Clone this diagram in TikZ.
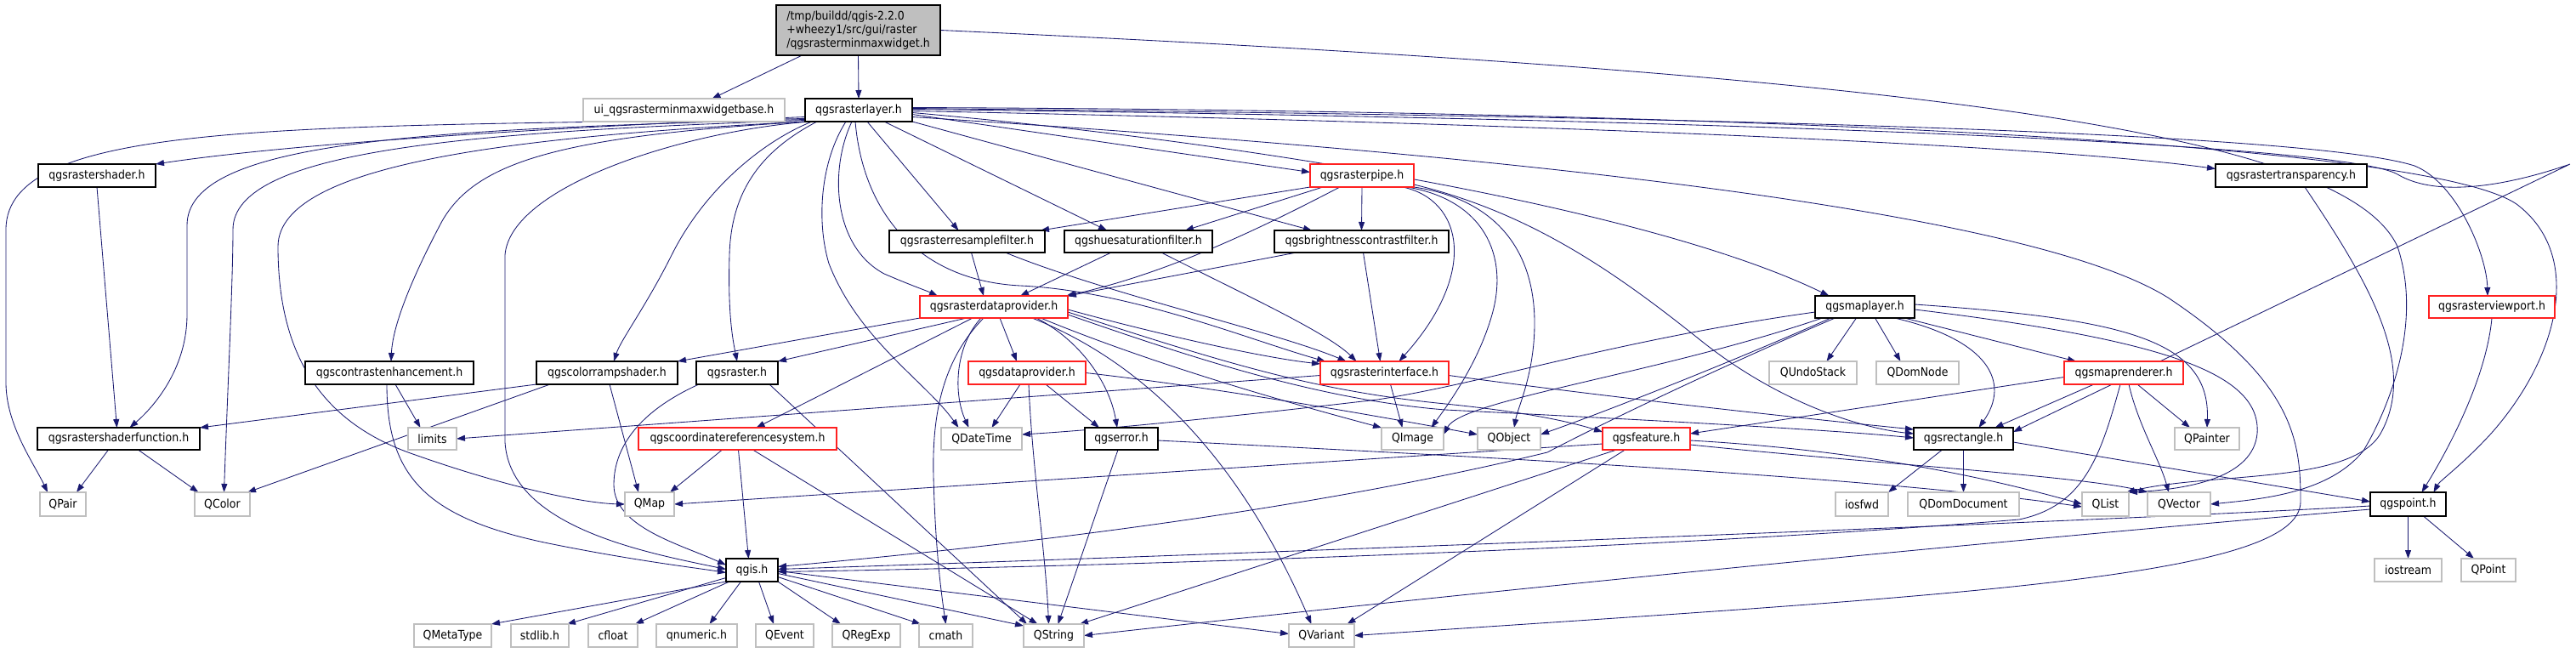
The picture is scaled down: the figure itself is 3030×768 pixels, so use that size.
\documentclass[tikz,border=0pt]{standalone}
\usepackage{fontspec}
\setmainfont{DejaVu Sans}[FakeStretch=0.9]
\usetikzlibrary{arrows.meta}
\definecolor{eblue}{HTML}{191970}
\definecolor{redb}{HTML}{FF2020}
\definecolor{grayb}{HTML}{BFBFBF}
\pgfdeclarelayer{back}
\pgfdeclarelayer{bg}
\pgfsetlayers{back,bg,main}
\newcommand\gnode[7]{\node[#6, minimum width={#4pt-#2pt}, minimum height={#5pt-#3pt}] (#1) at ({(#2+#4)/2},{(#3+#5)/2}) {#7};}
\tikzset{
 nb/.style={rectangle, inner sep=0pt, outer sep=0pt, fill=white, font=\fontsize{13.9}{15.7}\selectfont},
 blk/.style={nb, draw=black, line width=1.3pt},
 rdb/.style={nb, draw=redb, line width=1.2pt},
 gyb/.style={nb, draw=grayb, line width=1.2pt},
 topn/.style={nb, draw=black, line width=1.3pt, fill=grayb, align=left},
 ed/.style={draw=eblue, line width=0.85pt, -{Triangle[length=10pt,width=7pt]}},
}
\begin{document}
\begin{tikzpicture}[x=1pt,y=-1pt]
\useasboundingbox (0,0) rectangle (3030,768);
\begin{pgfonlayer}{back}
\fill[white] (0,0) rectangle (3030,768);
\end{pgfonlayer}
% nodes
\gnode{main}{913}{6}{1106}{65}{topn}{/tmp/buildd/qgis-2.2.0\\+wheezy1/src/gui/raster\\/qgsrasterminmaxwidget.h}
\gnode{ui}{686}{116}{923}{143}{gyb}{ui\_qgsrasterminmaxwidgetbase.h}
\gnode{L}{947}{116}{1073}{143}{blk}{qgsrasterlayer.h}
\gnode{RS}{45}{193}{183}{220}{blk}{qgsrastershader.h}
\gnode{P}{1541}{193}{1663}{220}{rdb}{qgsrasterpipe.h}
\gnode{TR}{2606}{193}{2784}{220}{blk}{qgsrastertransparency.h}
\gnode{RF}{1046}{271}{1229}{297}{blk}{qgsrasterresamplefilter.h}
\gnode{HS}{1252}{271}{1426}{297}{blk}{qgshuesaturationfilter.h}
\gnode{BC}{1499}{271}{1704}{297}{blk}{qgsbrightnesscontrastfilter.h}
\gnode{DP}{1082}{348}{1256}{374}{rdb}{qgsrasterdataprovider.h}
\gnode{ML}{2135}{348}{2252}{374}{blk}{qgsmaplayer.h}
\gnode{VP}{2857}{348}{3005}{374}{rdb}{qgsrasterviewport.h}
\gnode{CE}{359}{425}{557}{452}{blk}{qgscontrastenhancement.h}
\gnode{CR}{631}{425}{797}{452}{blk}{qgscolorrampshader.h}
\gnode{RA}{819}{425}{915}{452}{blk}{qgsraster.h}
\gnode{DPr}{1139}{425}{1277}{452}{rdb}{qgsdataprovider.h}
\gnode{RI}{1553}{425}{1704}{452}{rdb}{qgsrasterinterface.h}
\gnode{QU}{2081}{425}{2184}{452}{gyb}{QUndoStack}
\gnode{QDN}{2207}{425}{2304}{452}{gyb}{QDomNode}
\gnode{MR}{2428}{425}{2568}{452}{rdb}{qgsmaprenderer.h}
\gnode{RSF}{44}{503}{235}{529}{blk}{qgsrastershaderfunction.h}
\gnode{LIM}{480}{503}{537}{529}{gyb}{limits}
\gnode{CRS}{751}{503}{984}{529}{rdb}{qgscoordinatereferencesystem.h}
\gnode{QDT}{1107}{503}{1202}{529}{gyb}{QDateTime}
\gnode{ER}{1276}{503}{1362}{529}{blk}{qgserror.h}
\gnode{QI}{1625}{503}{1698}{529}{gyb}{QImage}
\gnode{QO}{1738}{503}{1812}{529}{gyb}{QObject}
\gnode{FE}{1885}{503}{1988}{529}{rdb}{qgsfeature.h}
\gnode{RE}{2251}{503}{2368}{529}{blk}{qgsrectangle.h}
\gnode{QPa}{2558}{503}{2634}{529}{gyb}{QPainter}
\gnode{QPair}{47}{579}{101}{607}{gyb}{QPair}
\gnode{QColor}{229}{579}{294}{607}{gyb}{QColor}
\gnode{QMap}{735}{579}{793}{607}{gyb}{QMap}
\gnode{IOF}{2159}{579}{2221}{607}{gyb}{iosfwd}
\gnode{QDD}{2244}{579}{2375}{607}{gyb}{QDomDocument}
\gnode{QList}{2449}{579}{2504}{607}{gyb}{QList}
\gnode{QVec}{2526}{579}{2600}{607}{gyb}{QVector}
\gnode{PT}{2788}{579}{2877}{607}{blk}{qgspoint.h}
\gnode{QGIS}{854}{657}{915}{684}{blk}{qgis.h}
\gnode{IOS}{2793}{657}{2872}{684}{gyb}{iostream}
\gnode{QPoint}{2895}{657}{2959}{684}{gyb}{QPoint}
\gnode{QMeta}{487}{734}{578}{761}{gyb}{QMetaType}
\gnode{STD}{601}{734}{669}{761}{gyb}{stdlib.h}
\gnode{CFL}{692}{734}{750}{761}{gyb}{cfloat}
\gnode{QNUM}{772}{734}{867}{761}{gyb}{qnumeric.h}
\gnode{QEV}{889}{734}{957}{761}{gyb}{QEvent}
\gnode{QRE}{979}{734}{1059}{761}{gyb}{QRegExp}
\gnode{CMA}{1081}{734}{1144}{761}{gyb}{cmath}
\gnode{QS}{1204}{734}{1275}{761}{gyb}{QString}
\gnode{QVar}{1516}{734}{1593}{761}{gyb}{QVariant}
% edges
\begin{pgfonlayer}{bg}
% main
\draw[ed] ([xshift=-66pt]main.south) -- ([xshift=33pt]ui.north);
\draw[ed] (main.south) -- (L.north);
\draw[ed] (main.east) .. controls (2300,90) and (2760,160) .. (2820,290) .. controls (2850,380) and (2810,480) .. (2780,530) .. controls (2740,580) and (2660,587) .. (QVec.east);
% qgsrasterlayer, leftwards
\draw[ed] ([yshift=-8pt]L.west) .. controls (650,150) and (350,168) .. (RS.north east);
\draw[ed] ([yshift=-10pt]L.west) .. controls (350,150) and (7,140) .. (7,270) -- (7,450) .. controls (7,500) and (40,545) .. ([xshift=-18pt]QPair.north);
\draw[ed] ([yshift=-11pt]L.west) .. controls (500,152) and (220,165) .. (220,265) -- (220,370) .. controls (220,430) and (185,475) .. ([xshift=13pt]RSF.north);
\draw[ed] ([yshift=-12pt]L.west) .. controls (560,155) and (274,175) .. (274,270) .. controls (274,330) and (268,450) .. ([xshift=2pt]QColor.north);
\draw[ed] (L.south west) .. controls (620,160) and (327,190) .. (327,290) .. controls (327,420) and (380,495) .. (480,532) .. controls (600,575) and (690,592) .. (QMap.west);
\draw[ed] ([xshift=3pt]L.south west) .. controls (660,160) and (560,190) .. (520,260) .. controls (488,320) and (462,380) .. ([xshift=2pt]CE.north);
\draw[ed] ([xshift=5pt]L.south west) .. controls (800,155) and (600,220) .. (594,300) -- (594,520) .. controls (600,620) and (760,650) .. ([yshift=1pt]QGIS.west);
\draw[ed] ([xshift=8pt]L.south west) .. controls (900,165) and (830,220) .. (790,300) .. controls (760,360) and (730,400) .. ([xshift=8pt]CR.north);
\draw[ed] ([xshift=14pt]L.south west) .. controls (900,175) and (860,220) .. (858,300) .. controls (856,370) and (862,400) .. (RA.north);
\draw[ed] ([xshift=-15pt]L.south) .. controls (965,190) and (960,260) .. (975,310) .. controls (1010,400) and (1090,450) .. ([xshift=-27pt]QDT.north);
\draw[ed] ([xshift=-8pt]L.south) .. controls (975,200) and (980,290) .. (1040,322) .. controls (1070,335) and (1090,342) .. ([xshift=-66pt]DP.north);
\draw[ed] ([xshift=-4pt]L.south) .. controls (1015,250) and (1080,330) .. (1200,336) .. controls (1330,342) and (1470,400) .. ([xshift=6pt]RI.north west);
% qgsrasterlayer, rightwards
\draw[ed] ([xshift=10pt]L.south) -- ([xshift=-10pt]RF.north);
\draw[ed] ([xshift=30pt]L.south) -- ([xshift=-37pt]HS.north);
\draw[ed] (L.south east) -- ([xshift=44pt]BC.north west);
\draw[ed] ([yshift=-5pt]L.east) -- ([yshift=4pt]P.west);
\draw[ed] ([yshift=-3pt]L.east) .. controls (1500,170) and (1950,250) .. ([xshift=-42pt]ML.north);
\draw[ed] ([yshift=-1pt]L.east) .. controls (1800,145) and (2400,170) .. ([yshift=8pt]TR.west);
\draw[ed] ([yshift=2pt]L.east) .. controls (1800,135) and (2700,150) .. (2840,195) .. controls (2890,215) and (2925,300) .. ([xshift=-5pt]VP.north);
\draw[ed] ([yshift=3pt]L.east) .. controls (2000,130) and (2850,165) .. (2960,240) .. controls (3040,300) and (3010,420) .. (2930,510) .. controls (2895,548) and (2870,565) .. ([xshift=30pt]PT.north);
\draw[ed] ([yshift=1pt]L.east) .. controls (1900,138) and (2750,165) .. (2820,205) .. controls (2870,235) and (2960,215) .. (3023,193) -- ([yshift=-5pt]RE.north east);
\draw[ed] ([yshift=-8pt]L.east) .. controls (1500,165) and (2350,225) .. (2550,350) .. controls (2700,450) and (2706,520) .. (2706,590) .. controls (2706,680) and (2300,700) .. (QVar.east);
% qgsrasterpipe
\draw[ed] (P.south west) -- ([xshift=-5pt]RF.north east);
\draw[ed] ([xshift=15pt]P.south west) -- ([xshift=55pt]HS.north);
\draw[ed] ([xshift=35pt]P.south west) .. controls (1495,262) and (1380,320) .. ([xshift=-2pt]DP.north east);
\draw[ed] (P.south) -- (BC.north);
\draw[ed] ([xshift=-13pt]P.south east) .. controls (1720,235) and (1740,320) .. ([xshift=17pt]RI.north);
\draw[ed] ([xshift=-8pt]P.south east) .. controls (1745,235) and (1775,300) .. (1755,370) .. controls (1738,430) and (1700,480) .. ([xshift=22pt]QI.north);
\draw[ed] (P.south east) .. controls (1765,235) and (1805,300) .. (1805,380) .. controls (1805,440) and (1785,480) .. ([xshift=6pt]QO.north);
\draw[ed] ([yshift=3pt]P.south east) .. controls (1800,250) and (1900,320) .. (2000,400) .. controls (2100,480) and (2200,505) .. ([yshift=6pt]RE.west);
% filters
\draw[ed] ([xshift=5pt]RF.south) -- ([xshift=-12pt]DP.north);
\draw[ed] ([xshift=45pt]RF.south) .. controls (1300,345) and (1500,390) .. ([xshift=-45pt]RI.north);
\draw[ed] ([xshift=-32pt]HS.south) -- ([xshift=31pt]DP.north);
\draw[ed] ([xshift=-60pt]HS.south east) .. controls (1450,340) and (1560,390) .. ([xshift=-33pt]RI.north);
\draw[ed] ([xshift=26pt]BC.south west) -- (DP.north east);
\draw[ed] ([xshift=2pt]BC.south) -- ([xshift=-5pt]RI.north);
% qgsrasterdataprovider
\draw[ed] (DP.south west) -- (CR.north east);
\draw[ed] ([xshift=-32pt]DP.south) -- (RA.north east);
\draw[ed] ([xshift=-25pt]DP.south) -- ([xshift=22pt]CRS.north);
\draw[ed] ([xshift=-15pt]DP.south) .. controls (1125,405) and (1120,460) .. ([xshift=-15pt]QDT.north);
\draw[ed] ([xshift=-12pt]DP.south) .. controls (1112,420) and (1096,480) .. (1098,560) .. controls (1100,640) and (1106,690) .. (CMA.north);
\draw[ed] ([xshift=7pt]DP.south) -- ([xshift=-12pt]DPr.north);
\draw[ed] ([xshift=50pt]DP.south) .. controls (1270,400) and (1305,450) .. ([xshift=-5pt]ER.north);
\draw[ed] ([xshift=45pt]DP.south) .. controls (1330,420) and (1450,520) .. ([xshift=-12pt]QVar.north);
\draw[ed] ([yshift=-3pt]DP.east) .. controls (1350,390) and (1480,420) .. ([yshift=-3pt]RI.north west);
\draw[ed] ([xshift=55pt]DP.south) .. controls (1360,430) and (1520,475) .. (QI.north west);
\draw[ed] ([yshift=-6pt]DP.east) .. controls (1450,430) and (1550,460) .. (1700,475) .. controls (1800,485) and (1850,497) .. ([yshift=8pt]FE.west);
\draw[ed] ([yshift=4pt]DP.south east) .. controls (1400,420) and (1550,470) .. (1700,482) .. controls (1900,492) and (2150,505) .. ([yshift=1pt]RE.west);
% qgsdataprovider
\draw[ed] ([xshift=-8pt]DPr.south) -- ([xshift=12pt]QDT.north);
\draw[ed] ([xshift=22pt]DPr.south) -- ([xshift=-26pt]ER.north);
\draw[ed] ([xshift=2pt]DPr.south) .. controls (1214,550) and (1230,650) .. ([xshift=-6pt]QS.north);
\draw[ed] (DPr.east) .. controls (1450,458) and (1650,495) .. ([yshift=5pt]QO.west);
% qgsrasterinterface
\draw[ed] ([yshift=-3pt]RI.west) -- (LIM.east);
\draw[ed] ([xshift=7pt]RI.south) -- ([xshift=-12pt]QI.north);
\draw[ed] ([yshift=-3pt]RI.east) .. controls (1900,468) and (2100,490) .. ([yshift=11pt]RE.west);
% qgsmaplayer
\draw[ed] ([xshift=-10pt]ML.south) -- ([xshift=16pt]QU.north);
\draw[ed] ([xshift=12pt]ML.south) -- ([xshift=-20pt]QDN.north);
\draw[ed] ([xshift=-12pt]ML.south east) -- ([xshift=14pt]MR.north west);
\draw[ed] ([yshift=3pt]ML.east) .. controls (2500,375) and (2600,400) .. (QPa.north);
\draw[ed] ([yshift=-3pt]ML.east) .. controls (2550,400) and (2660,440) .. (2655,510) .. controls (2650,560) and (2580,575) .. (QList.north east);
\draw[ed] ([xshift=35pt]ML.south) .. controls (2340,400) and (2365,450) .. ([xshift=18pt]RE.north);
\draw[ed] ([yshift=-6pt]ML.west) .. controls (1900,400) and (1750,450) .. (1620,470) .. controls (1450,490) and (1300,505) .. ([yshift=5pt]QDT.east);
\draw[ed] ([xshift=-40pt]ML.south) .. controls (2050,420) and (1900,480) .. ([yshift=5pt]QO.east);
\draw[ed] ([xshift=-35pt]ML.south) .. controls (2050,420) and (1900,490) .. (1820,532) .. controls (1500,610) and (1100,650) .. ([yshift=4pt]QGIS.east);
\draw[ed] ([xshift=-50pt]ML.south) .. controls (1950,440) and (1720,470) .. ([yshift=5pt]QI.east);
% qgsmaprenderer
\draw[ed] ([xshift=-35pt]MR.south) -- ([xshift=37pt]RE.north);
\draw[ed] ([xshift=16pt]MR.south) -- ([xshift=-20pt]QPa.north);
\draw[ed] ([xshift=6pt]MR.south) .. controls (2515,500) and (2540,540) .. ([xshift=-12pt]QVec.north);
\draw[ed] ([xshift=-4pt]MR.south) .. controls (2470,540) and (2450,595) .. (2375,611) .. controls (1900,650) and (1200,668) .. ([yshift=-2pt]QGIS.east);
\draw[ed] ([yshift=-5pt]MR.west) -- ([yshift=6pt]FE.east);
% qgsfeature
\draw[ed] ([yshift=-6pt]FE.west) -- (QMap.east);
\draw[ed] ([xshift=-35pt]FE.south) -- ([xshift=-5pt]QS.north east);
\draw[ed] ([xshift=-25pt]FE.south) -- ([xshift=30pt]QVar.north);
\draw[ed] ([yshift=-2pt]FE.east) .. controls (2200,530) and (2350,565) .. (QList.west);
\draw[ed] ([yshift=-7pt]FE.east) .. controls (2200,545) and (2450,560) .. (QVec.north west);
% qgserror
\draw[ed] ([xshift=-4pt]ER.south) -- ([xshift=5pt]QS.north);
\draw[ed] ([yshift=-2pt]ER.east) .. controls (1700,535) and (2200,560) .. ([yshift=-3pt]QList.west);
% crs
\draw[ed] ([xshift=-18pt]CRS.south) -- ([xshift=24pt]QMap.north);
\draw[ed] ([xshift=1pt]CRS.south) -- ([xshift=-4pt]QGIS.north);
\draw[ed] ([xshift=18pt]CRS.south) -- ([xshift=-19pt]QS.north);
% qgsraster
\draw[ed] ([xshift=-45pt]RA.south) .. controls (760,480) and (722,520) .. (722,570) .. controls (722,620) and (800,640) .. ([yshift=6pt]QGIS.west);
\draw[ed] ([xshift=38pt]RA.south) -- ([xshift=4pt]QS.north west);
% colorramp
\draw[ed] (CR.south west) -- (RSF.north east);
\draw[ed] ([xshift=16pt]CR.south west) -- ([xshift=-3pt]QColor.north east);
\draw[ed] ([xshift=3pt]CR.south) -- ([xshift=-13pt]QMap.north);
% contrast
\draw[ed] ([xshift=7pt]CE.south) -- ([xshift=-14pt]LIM.north);
\draw[ed] ([xshift=-3pt]CE.south) .. controls (455,560) and (500,610) .. (650,640) .. controls (750,660) and (820,668) .. ([yshift=-3pt]QGIS.west);
% shader
\draw[ed] (RS.south) -- ([xshift=-2pt]RSF.north);
\draw[ed] ([xshift=-12pt]RSF.south) -- ([xshift=16pt]QPair.north);
\draw[ed] ([xshift=23pt]RSF.south) -- ([xshift=-28pt]QColor.north);
% qgis.h
\draw[ed] (QGIS.south west) -- (QMeta.north east);
\draw[ed] ([yshift=-9pt]QGIS.west) -- ([xshift=-2pt]STD.north east);
\draw[ed] ([xshift=4pt]QGIS.south west) -- ([xshift=-3pt]CFL.north east);
\draw[ed] ([xshift=-13pt]QGIS.south) -- ([xshift=15pt]QNUM.north);
\draw[ed] ([xshift=8pt]QGIS.south) -- ([xshift=-13pt]QEV.north);
\draw[ed] (QGIS.south east) -- ([xshift=10pt]QRE.north west);
\draw[ed] ([yshift=-8pt]QGIS.east) -- ([xshift=2pt]CMA.north west);
\draw[ed] ([yshift=-4pt]QGIS.east) -- ([yshift=-2pt]QS.north west);
\draw[ed] ([yshift=-1pt]QGIS.east) -- ([yshift=2pt]QVar.west);
% rectangle
\draw[ed] ([xshift=-25pt]RE.south) -- (IOF.north east);
\draw[ed] (RE.south) -- (QDD.north);
\draw[ed] ([yshift=-4pt]RE.east) -- ([yshift=3pt]PT.west);
% point
\draw[ed] (PT.south) -- (IOS.north);
\draw[ed] ([xshift=18pt]PT.south) -- ([xshift=-17pt]QPoint.north);
\draw[ed] ([yshift=-2pt]PT.west) .. controls (2500,612) and (1500,650) .. ([yshift=1pt]QGIS.east);
\draw[ed] ([yshift=-6pt]PT.west) .. controls (2300,640) and (1700,700) .. (QS.east);
% viewport, transparency
\draw[ed] (VP.south) .. controls (2925,440) and (2885,520) .. ([xshift=16pt]PT.north);
\draw[ed] ([xshift=16pt]TR.south) .. controls (2785,330) and (2845,430) .. (2800,510) .. controls (2765,570) and (2600,555) .. ([xshift=-3pt]QList.north east);
\end{pgfonlayer}
\end{tikzpicture}
\end{document}
